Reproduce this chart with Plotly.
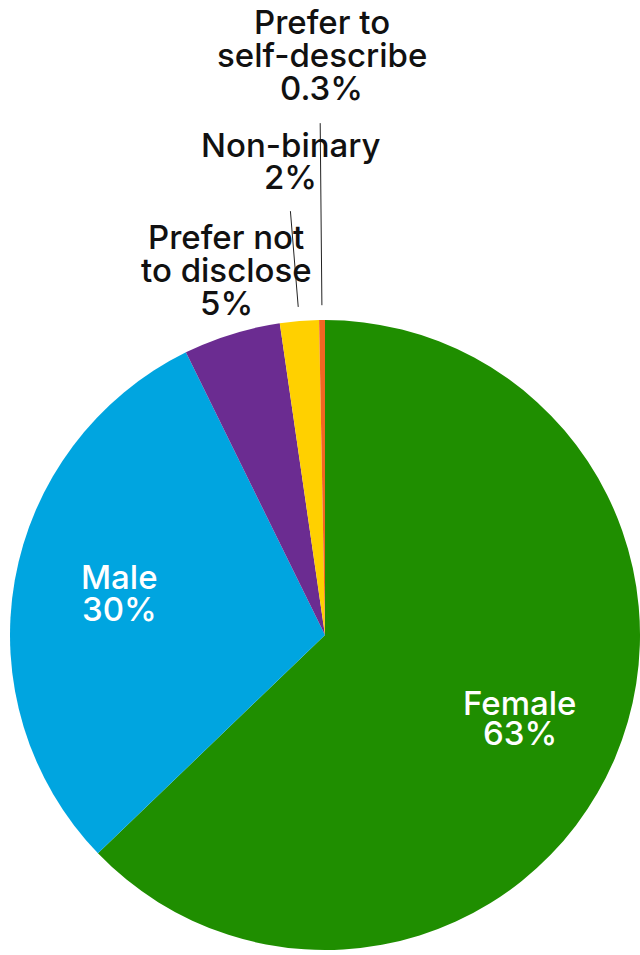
import math
import plotly.graph_objects as go

# Respondent gender breakdown (percent of respondents)
categories = ["Female", "Male", "Prefer not to disclose", "Non-binary", "Prefer to self-describe"]
shares = [63, 30, 5, 2, 0.3]
colors = ["#1f8e00", "#00a5e0", "#6b2c91", "#ffd000", "#f26522"]
label_lines = [
    ["Female"],
    ["Male"],
    ["Prefer not", "to disclose"],
    ["Non-binary"],
    ["Prefer to", "self-describe"],
]

# label placement: radius (in pie radii) along the slice's mid angle, x/y nudge in px,
# line spacing in px, whether the label sits inside the slice, optional leader (r0, r1)
placement = [
    dict(r=0.672, dx=0, dy=0, gap=30, inside=True, leader=None),
    dict(r=0.663, dx=0, dy=-6, gap=32, inside=True, leader=None),
    dict(r=1.186, dx=12, dy=-8, gap=33, inside=False, leader=None),
    dict(r=1.50, dx=4, dy=-3, gap=32, inside=False, leader=(1.045, 1.35)),
    dict(r=1.83, dx=2, dy=-4, gap=33, inside=False, leader=(1.047, 1.625)),
]

FONT = "Inter"
FSIZE = 33
WEIGHT = 500

W, H = 640, 955
M = dict(l=10, r=0, t=320, b=5)
pw = W - M["l"] - M["r"]
ph = H - M["t"] - M["b"]
R = min(pw, ph) / 2
cx = M["l"] + pw / 2
cy = M["t"] + ph / 2


def to_paper(px, py):
    return (px - M["l"]) / pw, 1 - (py - M["t"]) / ph


def polar(angle_deg, r):
    # angle measured clockwise from 12 o'clock, pixel coordinates (y down)
    a = math.radians(angle_deg)
    return cx + r * math.sin(a), cy - r * math.cos(a)


fig = go.Figure(
    go.Pie(
        labels=categories,
        values=shares,
        sort=False,
        direction="clockwise",
        rotation=0,
        marker=dict(colors=colors, line=dict(width=0)),
        textinfo="none",
        hoverinfo="label+value",
        showlegend=False,
        domain=dict(x=[0, 1], y=[0, 1]),
    )
)

total = sum(shares)
annotations = []
shapes = []
start = 0.0
for name, val, lines, pl in zip(categories, shares, label_lines, placement):
    span = val / total * 360.0
    mid = start + span / 2
    start += span

    bx, by = polar(mid, pl["r"] * R)
    bx += pl["dx"]
    by += pl["dy"]
    texts = lines + [f"{val:g}%"]
    n = len(texts)
    color = "white" if pl["inside"] else "#111111"
    for i, t in enumerate(texts):
        ly = by + (i - (n - 1) / 2) * pl["gap"]
        x, y = to_paper(bx, ly)
        annotations.append(
            dict(
                text=t, x=x, y=y, xref="paper", yref="paper",
                xanchor="center", yanchor="middle", showarrow=False,
                font=dict(family=FONT, size=FSIZE, color=color, weight=WEIGHT),
            )
        )

    if pl["leader"]:
        r0, r1 = pl["leader"]
        x0, y0 = to_paper(*polar(mid, r0 * R))
        x1, y1 = to_paper(*polar(mid, r1 * R))
        shapes.append(
            dict(type="line", xref="paper", yref="paper", x0=x0, y0=y0, x1=x1, y1=y1,
                 line=dict(color="#222222", width=1))
        )

fig.update_layout(
    width=W,
    height=H,
    margin=M,
    paper_bgcolor="white",
    plot_bgcolor="white",
    annotations=annotations,
    shapes=shapes,
)

fig.write_html("out.html")
